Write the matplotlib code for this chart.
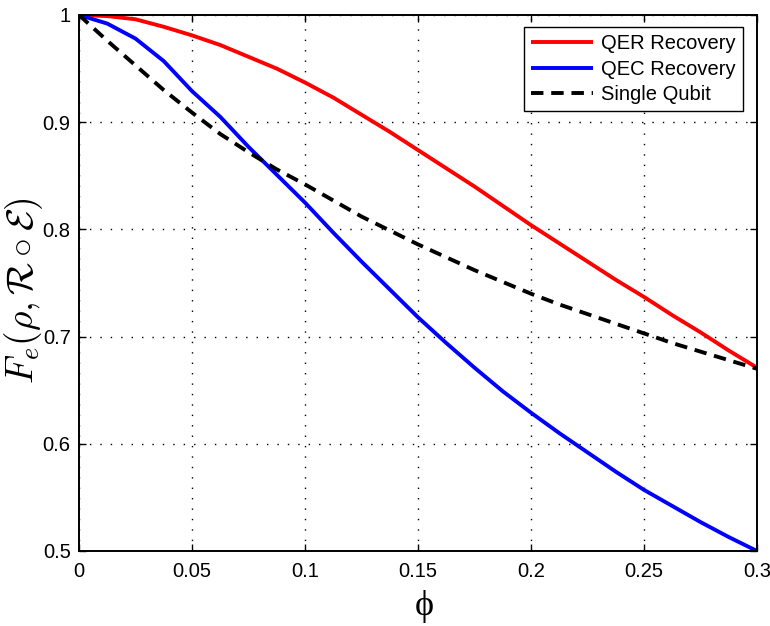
import matplotlib
matplotlib.use("Agg")
import matplotlib.pyplot as plt
import numpy as np

phi = [0.0, 0.0125, 0.025, 0.0375, 0.05, 0.0625, 0.075, 0.0875, 0.1, 0.1125,
       0.125, 0.1375, 0.15, 0.1625, 0.175, 0.1875, 0.2, 0.2125, 0.225, 0.2375,
       0.25, 0.2625, 0.275, 0.2875, 0.3]

qer = [1.0, 0.999, 0.996, 0.989, 0.981, 0.972, 0.961, 0.950, 0.937, 0.923,
       0.907, 0.891, 0.874, 0.857, 0.840, 0.822, 0.804, 0.787, 0.770, 0.753,
       0.737, 0.720, 0.704, 0.687, 0.671]

qec = [1.0, 0.992, 0.978, 0.957, 0.929, 0.905, 0.877, 0.851, 0.825, 0.797,
       0.770, 0.744, 0.718, 0.694, 0.671, 0.649, 0.629, 0.610, 0.592, 0.574,
       0.557, 0.542, 0.527, 0.513, 0.500]

single = [1.0, 0.976, 0.953, 0.930, 0.909, 0.889, 0.872, 0.856, 0.842, 0.827,
          0.812, 0.799, 0.786, 0.774, 0.762, 0.751, 0.740, 0.730, 0.721, 0.712,
          0.703, 0.694, 0.686, 0.678, 0.670]

xticks = [0, 0.05, 0.1, 0.15, 0.2, 0.25, 0.3]
xticklabels = ["0", "0.05", "0.1", "0.15", "0.2", "0.25", "0.3"]
yticks = [0.5, 0.6, 0.7, 0.8, 0.9, 1.0]
yticklabels = ["0.5", "0.6", "0.7", "0.8", "0.9", "1"]
labels = ["QER Recovery", "QEC Recovery", "Single Qubit"]

plt.rcParams['font.family'] = ['Liberation Sans', 'DejaVu Sans']
plt.rcParams['mathtext.fontset'] = 'cm'

fig = plt.figure(figsize=(7.7, 6.26), dpi=100)
ax = fig.add_axes([79/770, 1-551/626, (757-79)/770, (551-15)/626])

ax.plot(phi, qer, color='#ff0000', lw=2.8, label=labels[0], solid_capstyle='butt')
ax.plot(phi, qec, color='#0000ff', lw=2.8, label=labels[1], solid_capstyle='butt')
ax.plot(phi, single, color='black', lw=2.8, dashes=(3.2, 2.0), label=labels[2])

ax.set_xlim(0, 0.3)
ax.set_ylim(0.5, 1.0)
ax.set_xticks(xticks)
ax.set_xticklabels(xticklabels)
ax.set_yticks(yticks)
ax.set_yticklabels(yticklabels)
ax.tick_params(direction='in', length=5, width=1.0, top=True, right=True,
               labelsize=14.5, colors='black')
ax.tick_params(axis='x', pad=8)
ax.tick_params(axis='y', pad=6)
for s in ax.spines.values():
    s.set_linewidth(1.4)
    s.set_color('black')

ax.grid(True, color='black', linestyle=(0, (1.0, 6.5)), linewidth=1.0)
ax.set_axisbelow(True)

ax.set_ylabel(r'$F_e(\rho,\mathcal{R}\circ\mathcal{E})$', fontsize=27)
ax.yaxis.set_label_coords(-0.050, 0.485)
ax.set_xlabel('ϕ', fontsize=26, family=['Liberation Serif', 'DejaVu Serif'])
ax.xaxis.set_label_coords(0.509, -0.072)

leg = ax.legend(loc='upper right', bbox_to_anchor=(743/770, 1-27/626), bbox_transform=fig.transFigure,
                fontsize=14.5, handlelength=3.1, handletextpad=0.4, labelspacing=0.33,
                borderpad=0.35, borderaxespad=0, fancybox=False, framealpha=1,
                edgecolor='black')
leg.get_frame().set_linewidth(1.0)

fig.savefig('out.png', dpi=100)
